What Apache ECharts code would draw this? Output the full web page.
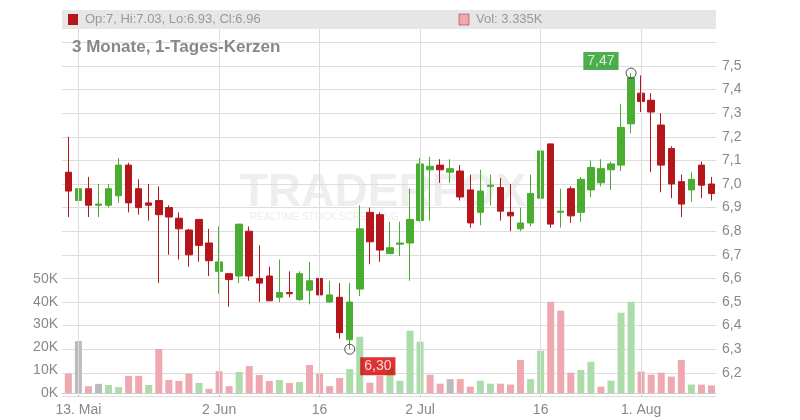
<!DOCTYPE html>
<html><head><meta charset="utf-8">
<script src="https://cdn.jsdelivr.net/npm/echarts@6/dist/echarts.min.js"></script>
<style>html,body{margin:0;padding:0;background:#fff}#c{width:800px;height:420px}</style>
</head><body><div id="c"></div>
<script>
// candle data: [open, close, low, high]
const opens  = [7.05,6.93,6.98,6.91,6.91,6.95,7.08,6.98,6.92,6.93,6.90,6.855,6.805,6.85,6.75,6.63,6.62,6.61,6.80,6.60,6.61,6.52,6.54,6.51,6.55,6.60,6.50,6.52,6.34,
                6.555,6.88,6.87,6.705,6.745,6.75,6.845,7.06,7.08,7.05,7.055,6.975,6.88,6.99,6.985,6.88,6.81,6.835,6.94,7.17,6.88,6.98,6.88,6.975,7.005,7.06,7.08,7.255,7.385,7.355,7.25,7.15,7.01,6.975,7.08,7.00];
const closes = [6.97,6.98,6.91,6.915,6.98,7.08,6.92,6.90,6.91,6.87,6.86,6.81,6.70,6.74,6.675,6.67,6.595,6.83,6.61,6.58,6.505,6.54,6.535,6.62,6.59,6.53,6.53,6.37,6.50,
                6.81,6.755,6.72,6.73,6.75,6.85,7.085,7.075,7.06,7.065,6.945,6.835,6.97,6.995,6.885,6.865,6.835,6.96,7.14,6.83,6.885,6.865,7.02,7.07,7.065,7.085,7.24,7.45,7.35,7.305,7.08,7.00,6.915,7.02,6.995,6.96];
const lows   = [6.86,6.89,6.86,6.86,6.90,6.92,6.88,6.87,6.845,6.58,6.70,6.68,6.65,6.67,6.61,6.535,6.48,6.58,6.59,6.50,6.505,6.50,6.52,6.505,6.49,6.505,6.50,6.345,6.30,
                6.525,6.66,6.67,6.705,6.695,6.59,6.84,6.845,7.005,7.005,6.93,6.815,6.825,6.91,6.845,6.80,6.80,6.82,6.92,6.815,6.815,6.835,6.84,6.945,6.99,6.975,7.055,7.215,7.305,7.05,6.965,6.94,6.86,6.925,6.94,6.93];
const highs  = [7.20,7.03,7.03,7.00,7.00,7.11,7.09,7.02,7.00,6.99,6.91,6.88,6.81,6.85,6.81,6.82,6.62,6.83,6.82,6.74,6.65,6.68,6.63,6.63,6.67,6.64,6.59,6.58,6.58,
                6.91,6.90,6.88,6.84,6.84,6.98,7.11,7.115,7.105,7.105,7.08,7.04,7.06,7.04,7.025,7.00,6.90,7.04,7.17,7.17,6.98,6.99,7.03,7.10,7.105,7.095,7.34,7.47,7.46,7.385,7.30,7.16,7.04,7.05,7.095,7.03];
const volumes = [8.5,22.8,3,4,3.5,2.6,7.5,7.5,3.5,19.3,5.7,5.3,8.5,4.4,1.8,9.6,3,9.2,11.8,7.9,5.3,5.7,4.4,4.8,12.3,8.5,3,6.6,10.5,
                 24.7,4.5,7.6,11.5,5.4,27.3,22.5,8,4.1,6.1,6.1,2.8,5.4,4.1,4.1,3.7,14.5,6.1,18.6,40,36.1,8.9,10.1,13.7,2.8,5.4,35.2,40,9.4,8,8.9,7.2,14.5,3.7,3.7,3.335];
const volDir = "dfdfuudduddddudddudddududdddu"+"udduuuu"+"ddfdd"+"uuddd"+"uuddd"+"uuduu"+"udddd"+"dudd";
const tickIdx = [1,15,25,35,47,57];
const tickLabels = ["13. Mai","2 Jun","16","2 Jul","16","1. Aug"];
const extremes = [{i:56,v:7.47,t:"7,47"},{i:28,v:6.30,t:"6,30"}];

const UP="#48ad30", DOWN="#b5161b";
const volColor={u:"#acdcaa",d:"#f0a8b0",f:"#bbbbbb"};
const candle = opens.map((o,i)=>[i,o,closes[i],lows[i],highs[i]]);
const vols = volumes.map((v,i)=>({value:[i,v*1000],itemStyle:{color:volColor[volDir[i]]}}));
const labelMap={}; tickIdx.forEach((k,j)=>labelMap[k]=tickLabels[j]);

const chart = echarts.init(document.getElementById('c'),null,{renderer:'canvas'});
const L=62,R=84,XMIN=-0.63,XMAX=64.45;
chart.setOption({
  animation:false,
  graphic:[
    {type:'rect',shape:{x:L,y:10,width:800-R-L,height:19},style:{fill:'#e6e6e6'},z:100},
    {type:'rect',shape:{x:68,y:14,width:10,height:11},style:{fill:DOWN},z:101},
    {type:'text',x:85,y:13,style:{text:'Op:7, Hi:7.03, Lo:6.93, Cl:6.96',fill:'#999',font:'13px Arial, Liberation Sans'},z:101},
    {type:'rect',shape:{x:459,y:14,width:10,height:11},style:{fill:'#f0a8b0',stroke:'#b5161b',lineWidth:0.5},z:101},
    {type:'text',x:476,y:13,style:{text:'Vol: 3.335K',fill:'#999',font:'13px Arial, Liberation Sans'},z:101},
    {type:'text',x:72,y:39,style:{text:'3 Monate, 1-Tages-Kerzen',fill:'#888',font:'bold 17px Arial, Liberation Sans'},z:101},
    {type:'text',x:240,y:170,style:{text:'TRADERFOX',fill:'rgba(200,200,200,0.3)',font:'bold 46px Arial, Liberation Sans'},z:-1},
    {type:'text',x:250,y:212,style:{text:'REALTIME STOCK SCREENING',fill:'rgba(200,200,200,0.35)',font:'10px Arial, Liberation Sans'},z:-1}
  ],
  grid:[
    {left:L,right:R,top:18.8,height:377.6},
    {left:L,right:R,top:279,height:114}
  ],
  xAxis:[
    {gridIndex:0,type:'value',min:XMIN,max:XMAX,axisLine:{show:false},axisTick:{show:false},axisLabel:{show:false},splitLine:{show:false}},
    {gridIndex:1,type:'value',min:XMIN,max:XMAX,axisLine:{show:true,lineStyle:{color:'#ccc'}},
     axisTick:{show:true,customValues:tickIdx,length:4,lineStyle:{color:'#999'}},
     axisLabel:{customValues:tickIdx,formatter:v=>labelMap[Math.round(v)]||'',color:'#888',fontSize:14,margin:10,fontFamily:'Arial'},
     splitLine:{show:false}}
  ],
  yAxis:[
    {gridIndex:0,type:'value',position:'right',min:6.1,max:7.7,interval:0.1,
     axisLine:{show:false},axisTick:{show:false},splitLine:{lineStyle:{color:'#ddd'}},
     axisLabel:{color:'#888',fontSize:14,margin:6,fontFamily:'Arial',
       formatter:v=>(v<6.15||v>7.55)?'':v.toFixed(1).replace('.',','),showMinLabel:false}},
    {gridIndex:1,type:'value',position:'left',min:0,max:50000,interval:10000,
     axisLine:{show:false},axisTick:{show:false},splitLine:{show:false},
     axisLabel:{color:'#888',fontSize:14,margin:4,fontFamily:'Arial',formatter:v=>(v/1000)+'K'}}
  ],
  series:[
    {type:'bar',xAxisIndex:1,yAxisIndex:1,data:vols,barWidth:7,z:1},
    {type:'candlestick',xAxisIndex:0,yAxisIndex:0,data:candle,barWidth:7,z:3,
     itemStyle:{color:UP,color0:DOWN,borderColor:UP,borderColor0:DOWN,borderWidth:1},
     markLine:{silent:true,symbol:'none',label:{show:false},lineStyle:{color:'#ddd',type:'solid',width:1},
       data:tickIdx.map(k=>({xAxis:k}))}},
    {type:'scatter',xAxisIndex:0,yAxisIndex:0,symbol:'circle',symbolSize:10,z:5,
     itemStyle:{color:'rgba(255,255,255,0)',borderColor:'#222',borderWidth:1},
     data:[
       {value:[extremes[0].i,extremes[0].v],label:{show:true,formatter:extremes[0].t,position:'left',offset:[-2,-12],
         backgroundColor:'#1f9a1f',color:'#fff',fontSize:14,padding:[2,4],fontFamily:'Arial'}},
       {value:[extremes[1].i,extremes[1].v],label:{show:true,formatter:extremes[1].t,position:'right',offset:[0,17],
         backgroundColor:'#d40000',color:'#fff',fontSize:14,padding:[2,4],fontFamily:'Arial'}}
     ]}
  ]
});
</script></body></html>
